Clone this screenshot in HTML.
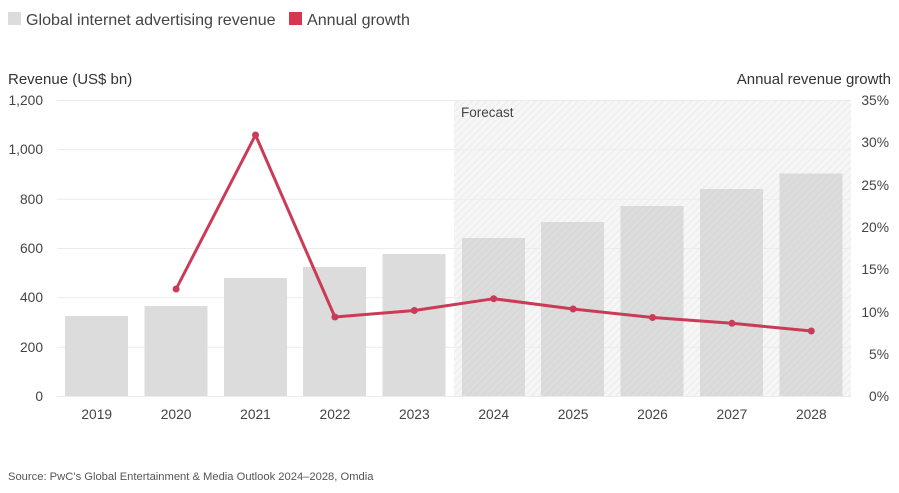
<!DOCTYPE html>
<html><head><meta charset="utf-8"><style>
html,body{margin:0;padding:0;background:#fff;}
svg{display:block;font-family:"Liberation Sans",Arial,sans-serif;}
</style></head><body>
<svg width="899" height="493" viewBox="0 0 899 493" xmlns="http://www.w3.org/2000/svg">
<defs>
<pattern id="hatch" width="5" height="5" patternUnits="userSpaceOnUse" patternTransform="rotate(45)">
<rect width="5" height="5" fill="#f6f6f6"/>
<line x1="0" y1="0" x2="0" y2="5" stroke="#e8e8e8" stroke-width="1.5"/>
</pattern>
<pattern id="hatchbar" width="5" height="5" patternUnits="userSpaceOnUse" patternTransform="rotate(45)">
<rect width="5" height="5" fill="#dcdcdc"/>
<line x1="0" y1="0" x2="0" y2="5" stroke="#d2d2d2" stroke-width="1.2"/>
</pattern>
</defs>
<!-- legend -->
<rect x="8" y="12" width="13" height="13" fill="#dcdcdc"/>
<text x="26" y="25" font-size="16.1" fill="#444">Global internet advertising revenue</text>
<rect x="289" y="12" width="13" height="13" fill="#d6364f"/>
<text x="307" y="25" font-size="16.1" fill="#444">Annual growth</text>
<!-- axis titles -->
<text x="8" y="84" font-size="15" fill="#333">Revenue (US$ bn)</text>
<text x="891" y="84" font-size="15" fill="#333" text-anchor="end">Annual revenue growth</text>
<!-- forecast region -->
<rect x="454" y="100" width="397" height="296" fill="url(#hatch)"/>
<!-- gridlines -->
<g stroke="#ebebeb" stroke-width="1">
<line x1="57" x2="851" y1="100.5" y2="100.5"/>
<line x1="57" x2="851" y1="149.8" y2="149.8"/>
<line x1="57" x2="851" y1="199.2" y2="199.2"/>
<line x1="57" x2="851" y1="248.5" y2="248.5"/>
<line x1="57" x2="851" y1="297.8" y2="297.8"/>
<line x1="57" x2="851" y1="347.2" y2="347.2"/>
<line x1="57" x2="851" y1="396.5" y2="396.5"/>
</g>
<text x="461" y="117" font-size="13.5" fill="#444">Forecast</text>
<!-- bars -->
<g fill="#dcdcdc">
<rect x="65" y="316" width="63" height="80"/>
<rect x="144.5" y="306" width="63" height="90"/>
<rect x="224" y="278" width="63" height="118"/>
<rect x="303" y="267" width="63" height="129"/>
<rect x="382.5" y="254" width="63" height="142"/>
</g>
<g fill="url(#hatchbar)">
<rect x="462" y="238" width="63" height="158"/>
<rect x="541" y="222" width="63" height="174"/>
<rect x="620.5" y="206" width="63" height="190"/>
<rect x="700" y="189" width="63" height="207"/>
<rect x="779.5" y="173.5" width="63" height="222.5"/>
</g>
<!-- left ticks -->
<g font-size="13.8" fill="#444" text-anchor="end">
<text x="43" y="105">1,200</text>
<text x="43" y="154">1,000</text>
<text x="43" y="204">800</text>
<text x="43" y="253">600</text>
<text x="43" y="302">400</text>
<text x="43" y="352">200</text>
<text x="43" y="401">0</text>
</g>
<!-- right ticks -->
<g font-size="13.8" fill="#444" text-anchor="end">
<text x="889" y="105">35%</text>
<text x="889" y="147">30%</text>
<text x="889" y="190">25%</text>
<text x="889" y="232">20%</text>
<text x="889" y="274">15%</text>
<text x="889" y="317">10%</text>
<text x="889" y="359">5%</text>
<text x="889" y="401">0%</text>
</g>
<!-- x labels -->
<g font-size="13.8" fill="#444" text-anchor="middle">
<text x="96.7" y="419">2019</text>
<text x="176.1" y="419">2020</text>
<text x="255.5" y="419">2021</text>
<text x="334.9" y="419">2022</text>
<text x="414.3" y="419">2023</text>
<text x="493.7" y="419">2024</text>
<text x="573.1" y="419">2025</text>
<text x="652.5" y="419">2026</text>
<text x="731.9" y="419">2027</text>
<text x="811.3" y="419">2028</text>
</g>
<!-- line -->
<polyline fill="none" stroke="#cb3a57" stroke-width="3" stroke-linejoin="round" points="176.1,289 255.5,135 334.9,317 414.3,310.5 493.7,298.7 573.1,309 652.5,317.5 731.9,323.3 811.3,331"/>
<g fill="#cb3a57">
<circle cx="176.1" cy="289" r="3.5"/>
<circle cx="255.5" cy="135" r="3.5"/>
<circle cx="334.9" cy="317" r="3.5"/>
<circle cx="414.3" cy="310.5" r="3.5"/>
<circle cx="493.7" cy="298.7" r="3.5"/>
<circle cx="573.1" cy="309" r="3.5"/>
<circle cx="652.5" cy="317.5" r="3.5"/>
<circle cx="731.9" cy="323.3" r="3.5"/>
<circle cx="811.3" cy="331" r="3.5"/>
</g>
<text x="8" y="480" font-size="11.2" fill="#555">Source: PwC’s Global Entertainment &amp; Media Outlook 2024–2028, Omdia</text>
</svg>
</body></html>
